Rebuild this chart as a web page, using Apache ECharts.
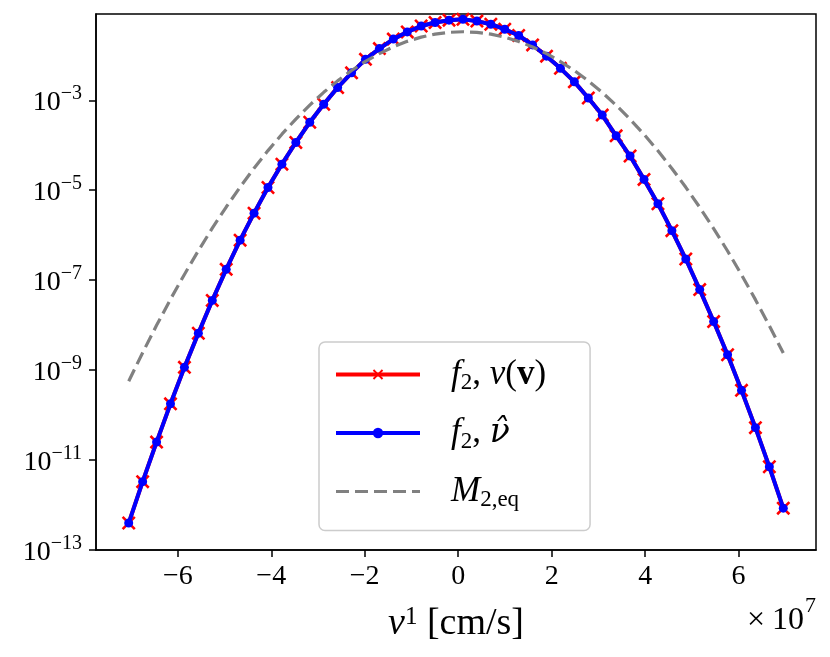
<!DOCTYPE html>
<html>
<head>
<meta charset="utf-8">
<script src="https://cdn.jsdelivr.net/npm/echarts@6.0.0/dist/echarts.min.js"></script>
<style>
html,body{margin:0;padding:0;background:#fff;}
#chart{width:830px;height:657px;}
</style>
</head>
<body>
<div id="chart"></div>
<script>
// velocity v^1 [cm/s]
const velocity = [
  -7.050e7, -6.752e7, -6.454e7, -6.156e7, -5.858e7, -5.560e7, -5.262e7, -4.964e7,
  -4.666e7, -4.368e7, -4.070e7, -3.772e7, -3.474e7, -3.176e7, -2.878e7, -2.580e7,
  -2.282e7, -1.984e7, -1.686e7, -1.388e7, -1.090e7, -0.792e7, -0.494e7, -0.196e7,
  0.102e7, 0.400e7, 0.698e7, 0.996e7, 1.294e7, 1.592e7, 1.890e7, 2.188e7,
  2.486e7, 2.784e7, 3.082e7, 3.380e7, 3.678e7, 3.976e7, 4.274e7, 4.572e7,
  4.870e7, 5.168e7, 5.466e7, 5.764e7, 6.062e7, 6.360e7, 6.658e7, 6.956e7
];
// f_2 with nu(v)
const f2Nu = [
  3.98e-13, 3.31e-12, 2.51e-11, 1.78e-10, 1.15e-9, 6.61e-9, 3.55e-8, 1.74e-7,
  7.76e-7, 3.09e-6, 1.15e-5, 3.80e-5, 1.15e-4, 3.24e-4, 8.13e-4, 1.91e-3,
  4.07e-3, 8.13e-3, 1.41e-2, 2.29e-2, 3.31e-2, 4.47e-2, 5.37e-2, 6.03e-2,
  6.31e-2, 5.75e-2, 4.90e-2, 3.80e-2, 2.75e-2, 1.70e-2, 9.55e-3, 5.13e-3,
  2.57e-3, 1.12e-3, 4.68e-4, 1.62e-4, 5.75e-5, 1.74e-5, 5.01e-6, 1.26e-6,
  2.95e-7, 6.17e-8, 1.20e-8, 2.19e-9, 3.55e-10, 5.25e-11, 7.08e-12, 8.51e-13
];
// f_2 with nu-hat
const f2NuHat = [
  3.98e-13, 3.31e-12, 2.51e-11, 1.78e-10, 1.15e-9, 6.61e-9, 3.55e-8, 1.74e-7,
  7.76e-7, 3.09e-6, 1.15e-5, 3.80e-5, 1.15e-4, 3.24e-4, 8.13e-4, 1.91e-3,
  4.07e-3, 8.13e-3, 1.41e-2, 2.29e-2, 3.31e-2, 4.47e-2, 5.37e-2, 6.03e-2,
  6.31e-2, 5.75e-2, 4.90e-2, 3.80e-2, 2.75e-2, 1.70e-2, 9.55e-3, 5.13e-3,
  2.57e-3, 1.12e-3, 4.68e-4, 1.62e-4, 5.75e-5, 1.74e-5, 5.01e-6, 1.26e-6,
  2.95e-7, 6.17e-8, 1.20e-8, 2.19e-9, 3.55e-10, 5.25e-11, 7.08e-12, 8.51e-13
];
// M_{2,eq}
const m2Eq = [
  5.66e-10, 2.44e-9, 9.89e-9, 3.76e-8, 1.34e-7, 4.51e-7, 1.43e-6, 4.23e-6,
  1.18e-5, 3.09e-5, 7.60e-5, 1.76e-4, 3.82e-4, 7.82e-4, 1.50e-3, 2.70e-3,
  4.59e-3, 7.31e-3, 1.09e-2, 1.54e-2, 2.04e-2, 2.53e-2, 2.95e-2, 3.24e-2,
  3.34e-2, 3.24e-2, 2.95e-2, 2.52e-2, 2.03e-2, 1.53e-2, 1.09e-2, 7.26e-3,
  4.56e-3, 2.69e-3, 1.49e-3, 7.74e-4, 3.78e-4, 1.74e-4, 7.52e-5, 3.05e-5,
  1.16e-5, 4.17e-6, 1.40e-6, 4.45e-7, 1.32e-7, 3.69e-8, 9.70e-9, 2.39e-9
];
const xTickValues = [-6e7, -4e7, -2e7, 0, 2e7, 4e7, 6e7];
const yTickExponents = [-13, -11, -9, -7, -5, -3];
const seriesNames = ['f2nu', 'f2nuhat', 'm2eq'];

const FONT = 'Liberation Serif';
const MINUS = '\u2212';
const toPairs = (vals) => velocity.map((v, i) => [v, Math.log10(vals[i])]);

const crossPath = 'path://M1.3,0L5,3.7L8.7,0L10,1.3L6.3,5L10,8.7L8.7,10L5,6.3L1.3,10L0,8.7L3.7,5L0,1.3Z';

const chart = echarts.init(document.getElementById('chart'), null, {renderer: 'canvas'});

const LF = 35;
const legendRich = {
  g: {width: 26, fontSize: LF, lineHeight: 42, fontFamily: FONT},
  i: {fontSize: LF, fontStyle: 'italic', fontFamily: FONT, color: '#000', lineHeight: 42, verticalAlign: 'middle'},
  ih: {fontSize: LF - 2, fontStyle: 'italic', fontFamily: 'DejaVu Serif', color: '#000', lineHeight: 42, verticalAlign: 'middle'},
  r: {fontSize: LF, fontFamily: FONT, color: '#000', lineHeight: 42, verticalAlign: 'middle'},
  bd: {fontSize: LF, fontWeight: 'bold', fontFamily: FONT, color: '#000', lineHeight: 42, verticalAlign: 'middle'},
  sub: {fontSize: 23, fontFamily: FONT, color: '#000', padding: [18, 0, 0, 0], verticalAlign: 'top'}
};
const legendLabels = {
  f2nu: '{g| }{i|f}{sub|2}{r|, }{i|\u03BD}{r|(}{bd|v}{r|)}',
  f2nuhat: '{g| }{i|f}{sub|2}{r|, }{ih|\u03BD\u0302}',
  m2eq: '{g| }{i|M}{sub|2,eq}'
};

const option = {
  animation: false,
  backgroundColor: '#ffffff',
  grid: {
    left: 96, right: 14, top: 14, bottom: 107,
    show: true, borderColor: '#000', borderWidth: 1.5, backgroundColor: 'transparent'
  },
  graphic: [
    {
      type: 'text',
      right: 14, top: 595,
      silent: true,
      style: {
        text: '{x|\u00D7}{a|10}{s|7}',
        fill: '#000',
        font: '32px "Liberation Serif"',
        rich: {
          x: {fontSize: 32, fontFamily: FONT, fill: '#000', padding: [0, 7, 0, 0], verticalAlign: 'bottom'},
          a: {fontSize: 32, fontFamily: FONT, fill: '#000', verticalAlign: 'bottom'},
          s: {fontSize: 22, fontFamily: FONT, fill: '#000', padding: [0, 0, 20, 1], verticalAlign: 'bottom'}
        }
      }
    }
  ],
  legend: {
    orient: 'vertical',
    left: 319, top: 342,
    padding: [15, 44, 19, 15],
    itemGap: 21,
    itemWidth: 84, itemHeight: 13,
    backgroundColor: 'rgba(255,255,255,0.8)',
    borderColor: '#cccccc', borderWidth: 1.5, borderRadius: 6,
    selectedMode: false,
    lineStyle: {width: 'inherit'},
    data: [
      {name: 'f2nu'},
      {name: 'f2nuhat'},
      {name: 'm2eq', itemStyle: {opacity: 0}}
    ],
    formatter: (name) => legendLabels[name],
    textStyle: {rich: legendRich, fontFamily: FONT, fontSize: LF, color: '#000'}
  },
  xAxis: {
    type: 'value',
    min: -7.75e7, max: 7.656e7,
    splitLine: {show: false},
    axisLine: {show: true, onZero: false, lineStyle: {color: '#000', width: 1.5}},
    axisTick: {show: true, length: 7, inside: false, customValues: xTickValues, lineStyle: {color: '#000', width: 1.5}},
    axisLabel: {
      customValues: xTickValues,
      margin: 13,
      fontFamily: FONT, fontSize: 28, color: '#000',
      formatter: (v) => { const n = Math.round(v / 1e7); return n < 0 ? MINUS + Math.abs(n) : String(n); }
    },
    name: '{i|v}{sup|1}{r| [cm/s]}',
    nameLocation: 'middle',
    nameGap: 55,
    nameTextStyle: {
      rich: {
        i: {fontSize: 38, fontStyle: 'italic', fontFamily: FONT, color: '#000', verticalAlign: 'bottom'},
        sup: {fontSize: 25, fontFamily: FONT, color: '#000', padding: [0, 0, 13, 0], verticalAlign: 'bottom'},
        r: {fontSize: 38, fontFamily: FONT, color: '#000', verticalAlign: 'bottom'}
      }
    }
  },
  yAxis: {
    type: 'value',
    min: -13, max: -1.082,
    splitLine: {show: false},
    axisLine: {show: true, onZero: false, lineStyle: {color: '#000', width: 1.5}},
    axisTick: {show: true, length: 7, inside: false, customValues: yTickExponents, lineStyle: {color: '#000', width: 1.5}},
    axisLabel: {
      customValues: yTickExponents,
      margin: 14,
      formatter: (v) => '{b|10}{s|' + MINUS + Math.abs(Math.round(v)) + '}',
      rich: {
        b: {fontSize: 28, fontFamily: FONT, color: '#000', verticalAlign: 'bottom'},
        s: {fontSize: 20, fontFamily: FONT, color: '#000', padding: [0, 0, 13, 0], verticalAlign: 'bottom'}
      }
    }
  },
  series: [
    {
      name: 'f2nu', type: 'line', data: toPairs(f2Nu),
      symbol: crossPath, symbolSize: 14, showSymbol: true,
      lineStyle: {color: '#ff0000', width: 4},
      itemStyle: {color: '#ff0000'},
      z: 2
    },
    {
      name: 'f2nuhat', type: 'line', data: toPairs(f2NuHat),
      symbol: 'circle', symbolSize: 9, showSymbol: true,
      lineStyle: {color: '#0000ff', width: 4},
      itemStyle: {color: '#0000ff'},
      z: 3
    },
    {
      name: 'm2eq', type: 'line', data: toPairs(m2Eq),
      symbol: 'none', showSymbol: false,
      lineStyle: {color: '#808080', width: 3.2, type: [13, 6]},
      itemStyle: {color: '#808080'},
      z: 4
    }
  ]
};
chart.setOption(option);
</script>
</body>
</html>
